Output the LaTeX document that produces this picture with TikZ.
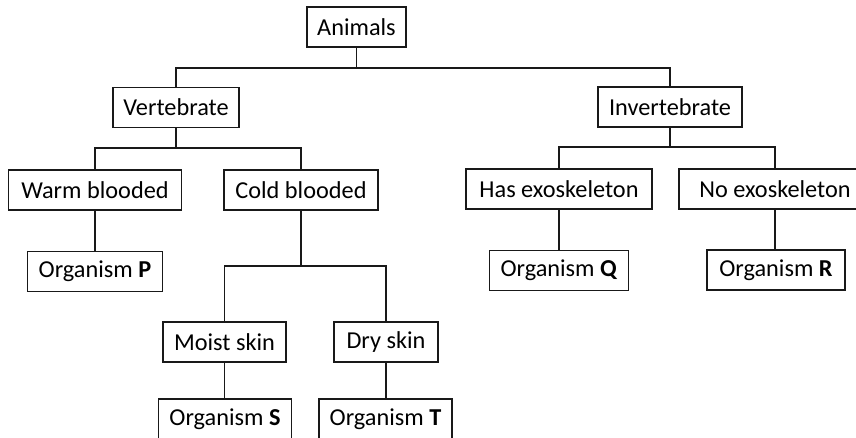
\documentclass[tikz,border=0pt]{standalone}
\usepackage{fontspec}
\setmainfont{Carlito}
\usetikzlibrary{positioning}

\begin{document}
\begin{tikzpicture}[
	x=1pt, y=-1pt,
	box/.style={rectangle, draw=black!90, line width=1.7pt, minimum height=40pt, inner sep=0pt, align=center, font=\fontsize{24.3}{28}\selectfont},
	link/.style={line width=1.7pt, draw=black!90}
]
\useasboundingbox (0,0) rectangle (856,437);
\clip (0,0) rectangle (856,437);
% boxes
\node (animals) [box, minimum width=99pt] at (356.5,27) {Animals};
\node (vert) [box, minimum width=126pt] at (176,107.5) {Vertebrate};
\node (invert) [box, minimum width=144pt] at (670,107) {Invertebrate};
\node (warm) [box, minimum width=173pt] at (95,190) {Warm blooded};
\node (cold) [box, minimum width=154pt] at (301,190) {Cold blooded};
\node (hasexo) [box, minimum width=186pt] at (559,189) {Has exoskeleton};
\node (noexo) [box, minimum width=192pt] at (775,189) {No exoskeleton};
\node (orgP) [box, minimum width=135pt] at (95,271.5) {Organism \textbf{P}};
\node (orgQ) [box, minimum width=139pt] at (559,270.5) {Organism \textbf{Q}};
\node (orgR) [box, minimum width=138pt] at (776,270) {Organism \textbf{R}};
\node (moist) [box, minimum width=123pt] at (224.5,342) {Moist skin};
\node (dry) [box, minimum width=104pt] at (386,342) {Dry skin};
\node (orgS) [box, minimum width=133pt] at (225,419) {Organism \textbf{S}};
\node (orgT) [box, minimum width=133pt] at (385.5,419) {Organism \textbf{T}};
% bus lines
\coordinate (abus) at (356.5,68);
\coordinate (vbus) at (176,148);
\coordinate (ibus) at (670,147);
\coordinate (cbus) at (301,266);
\draw [link] (animals) -- (abus);
\draw [link] (vert.north) |- (abus) -| (invert.north);
\draw [link] (vert) -- (vbus);
\draw [link] (warm.north) |- (vbus) -| (cold.north);
\draw [link] (invert) -- (ibus);
\draw [link] (hasexo.north) |- (ibus) -| (noexo.north);
\draw [link] (cold) -- (cbus);
\draw [link] (moist.north) |- (cbus) -| (dry.north);
% leaves
\draw [link] (warm.south) -- (warm.south |- orgP.north);
\draw [link] (hasexo.south) -- (hasexo.south |- orgQ.north);
\draw [link] (noexo.south) -- (noexo.south |- orgR.north);
\draw [link] (moist.south) -- (moist.south |- orgS.north);
\draw [link] (dry.south) -- (dry.south |- orgT.north);
\end{tikzpicture}
\end{document}
